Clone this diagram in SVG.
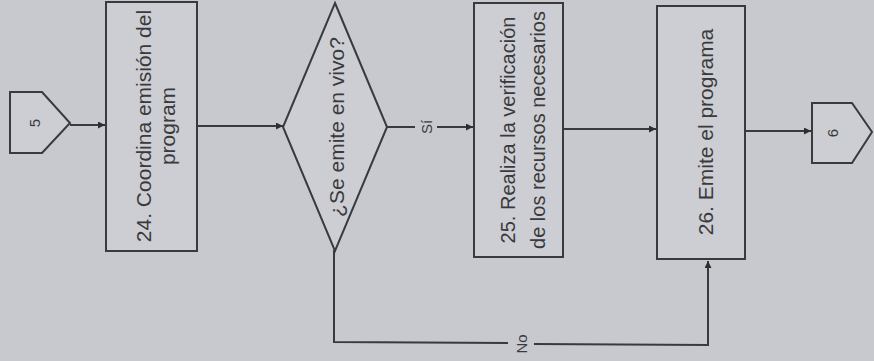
<svg xmlns="http://www.w3.org/2000/svg" width="874" height="361" viewBox="0 0 874 361">
<defs>
<style>
.shape{fill:#cdced3;stroke:#3a3a3c;stroke-width:2}
.ln{fill:none;stroke:#3a3a3c;stroke-width:2}
.t{font-family:"Liberation Sans",Arial,sans-serif;font-size:21px;fill:#3a3a3c;text-anchor:middle;dominant-baseline:central}
.s{font-size:15px}
</style>
<marker id="ah" viewBox="0 0 10 10" refX="10" refY="5" markerWidth="7" markerHeight="7" orient="auto" markerUnits="userSpaceOnUse">
<path d="M0,0 L10,5 L0,10 z" fill="#2e2e30"/>
</marker>
</defs>
<rect width="874" height="361" fill="#c8c9ce"/>
<g id="connectors">
<line class="ln" x1="70" y1="125" x2="105" y2="125" marker-end="url(#ah)"/>
<line class="ln" x1="197" y1="126" x2="283" y2="126" marker-end="url(#ah)"/>
<line class="ln" x1="387" y1="127" x2="415" y2="127"/>
<line class="ln" x1="437" y1="127" x2="473" y2="127" marker-end="url(#ah)"/>
<line class="ln" x1="563" y1="129" x2="656" y2="129" marker-end="url(#ah)"/>
<line class="ln" x1="745" y1="131" x2="811" y2="131" marker-end="url(#ah)"/>
<polyline class="ln" points="334,250 334,342 508,343"/>
<polyline class="ln" points="534,344 708,345 708,261" marker-end="url(#ah)"/>
<text class="t s" transform="translate(426,127) rotate(-90)">Sí</text>
<text class="t s" transform="translate(521,344) rotate(-90)">No</text>
</g>
<g id="n5">
<polygon class="shape" points="10,92 42,92 70,123 42,153 10,153"/>
<text class="t s" transform="translate(34,123) rotate(-90)">5</text>
</g>
<g id="n24">
<rect class="shape" x="106" y="2" width="91" height="249"/>
<text class="t" transform="translate(155,126) rotate(-90)"><tspan x="0" dy="-12">24. Coordina emisión del</tspan><tspan x="0" dy="24">program</tspan></text>
</g>
<g id="decision">
<polygon class="shape" points="335,3 387,127 335,251 283,127"/>
<text class="t" transform="translate(336,127) rotate(-90)">¿Se emite en vivo?</text>
</g>
<g id="n25">
<rect class="shape" x="474" y="3" width="89" height="254"/>
<text class="t" style="font-size:20px" transform="translate(523,130) rotate(-90)"><tspan x="0" dy="-15">25. Realiza la verificación</tspan><tspan x="0" dy="30">de los recursos necesarios</tspan></text>
</g>
<g id="n26">
<rect class="shape" x="657" y="6" width="88" height="253"/>
<text class="t" transform="translate(705,132) rotate(-90)">26. Emite el programa</text>
</g>
<g id="n6">
<polygon class="shape" points="812,103 852,103 872,132 852,163 812,163"/>
<text class="t s" transform="translate(832,133) rotate(-90)">6</text>
</g>
</svg>
